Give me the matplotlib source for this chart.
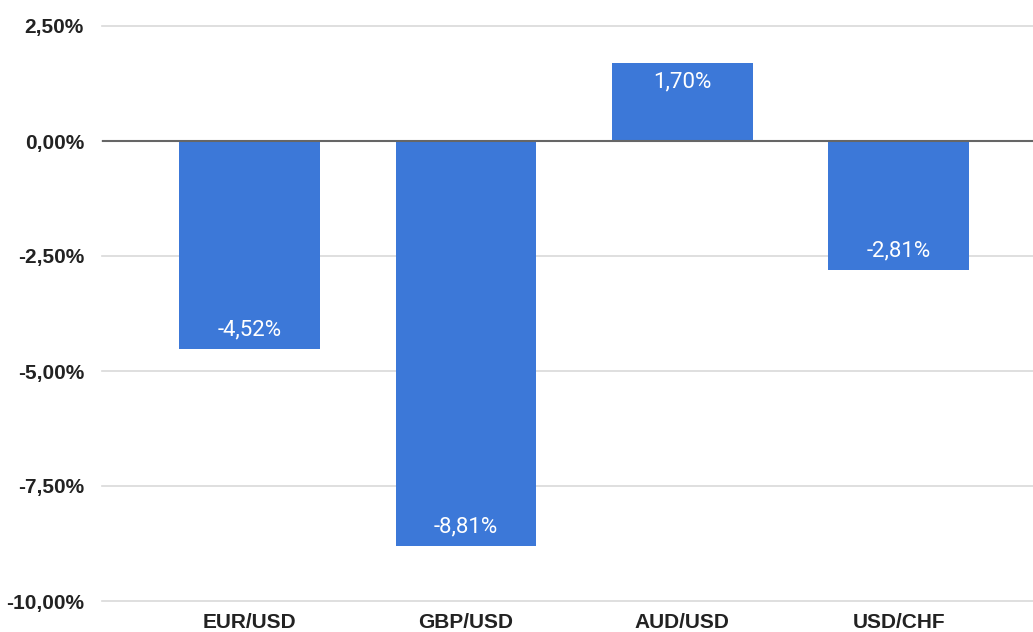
import matplotlib
matplotlib.use("Agg")
import matplotlib.pyplot as plt

# Currency pair changes (percent)
pairs = ["EUR/USD", "GBP/USD", "AUD/USD", "USD/CHF"]
changes = [-4.52, -8.81, 1.70, -2.81]
yticks = [2.5, 0.0, -2.5, -5.0, -7.5, -10.0]

bar_color = "#3c78d8"


def pct(v):
    return f"{v:.2f}%".replace(".", ",")


fig = plt.figure(figsize=(10.33, 6.32), dpi=100)
ax = fig.add_axes([102 / 1033, 31 / 632, 931 / 1033, 575 / 632])

x = list(range(len(pairs)))
ax.bar(x, changes, width=0.65, color=bar_color, zorder=3)

# Value labels inside the bar ends
for xi, v in zip(x, changes):
    off = -19 if v > 0 else 19
    ax.annotate(pct(v), (xi, v), xytext=(0, off), textcoords="offset pixels",
                ha="center", va="center", color="white", fontsize=16,
                family="Roboto", zorder=4)

ax.set_ylim(-10, 2.5)
ax.set_xlim(-0.681, 3.62)
ax.set_yticks(yticks)
ax.set_yticklabels([pct(t) for t in yticks])
ax.set_xticks(x)
ax.set_xticklabels(pairs)

for t in yticks:
    ax.axhline(t, color="#d9d9d9", lw=1.2, zorder=1, clip_on=False)
ax.axhline(0, color="#666666", lw=1.5, zorder=5)

for s in ax.spines.values():
    s.set_visible(False)
ax.tick_params(length=0)
ax.tick_params(axis="y", pad=13)
ax.tick_params(axis="x", pad=9)
for lab in ax.get_yticklabels() + ax.get_xticklabels():
    lab.set_family("Liberation Sans")
    lab.set_fontsize(15)
    lab.set_fontweight("bold")
    lab.set_color("#222222")

fig.savefig("out.png", dpi=100)
